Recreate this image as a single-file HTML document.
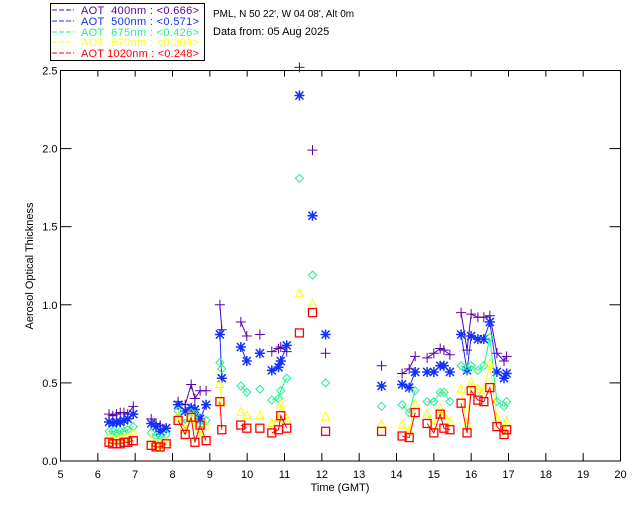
<!DOCTYPE html>
<html><head><meta charset="utf-8"><style>
body{margin:0;background:#fff;}
svg{display:block;font-family:"Liberation Sans",sans-serif;}
text{white-space:pre;}
</style></head><body>
<svg id="chart" width="640" height="512">
<rect x="50.5" y="3.5" width="154" height="57" fill="#fff" stroke="#000"/>
<g font-size="11">
<g><line x1="52" x2="74" y1="10" y2="10" stroke="#5a00a8" stroke-dasharray="5,2"/><text x="81" y="14" fill="#5a00a8" textLength="118" lengthAdjust="spacing">AOT  400nm : &lt;0.666&gt;</text></g>
<g><line x1="52" x2="74" y1="21" y2="21" stroke="#1030ff" stroke-dasharray="5,2"/><text x="81" y="25" fill="#1030ff" textLength="118" lengthAdjust="spacing">AOT  500nm : &lt;0.571&gt;</text></g>
<g><line x1="52" x2="74" y1="32" y2="32" stroke="#20f090" stroke-dasharray="5,2"/><text x="81" y="36" fill="#20f090" textLength="118" lengthAdjust="spacing">AOT  675nm : &lt;0.426&gt;</text></g>
<g><line x1="52" x2="74" y1="42" y2="42" stroke="#ffff00" stroke-dasharray="5,2"/><text x="81" y="46" fill="#ffff00" textLength="118" lengthAdjust="spacing">AOT  870nm : &lt;0.304&gt;</text></g>
<g><line x1="52" x2="74" y1="53" y2="53" stroke="#ff0000" stroke-dasharray="5,2"/><text x="81" y="57" fill="#ff0000" textLength="118" lengthAdjust="spacing">AOT 1020nm : &lt;0.248&gt;</text></g>
</g>
<text x="213" y="17" font-size="10">PML, N 50 22', W 04 08', Alt 0m</text>
<text x="213" y="35" font-size="11">Data from: 05 Aug 2025</text>
<rect x="60.5" y="70.5" width="560" height="390.5" fill="none" stroke="#000"/>
<g id="axes"></g>
<g id="marks"></g>
<text x="340" y="491" font-size="11" text-anchor="middle">Time (GMT)</text>
<text transform="translate(33,266) rotate(-90)" font-size="11" text-anchor="middle">Aerosol Optical Thickness</text>
</svg>
<script>
const times=[6.3,6.4,6.5,6.6,6.7,6.8,6.95, 7.43,7.56,7.67,7.83, 8.15,8.34,8.5,8.6,8.74,8.9, 9.27,9.32, 9.83,9.99, 10.34, 10.66,10.84,10.9,11.06, 11.4, 11.75, 12.1, 13.6, 14.15,14.34,14.5, 14.82,15.0,15.17,15.27,15.43, 15.73,15.89,16.0,16.18,16.34,16.5,16.69,16.88,16.95];
const aot400=[.30,.29,.30,.31,.31,.30,.35, .27,.24,.23,.21, .38,.36,.49,.40,.45,.45, 1.0,.84, .89,.80, .81, .70,.72,.73,.70, 2.52, 1.99, .69, .61, .56,.59,.67, .66,.69,.72,.71,.68, .95,.71,.94,.92,.92,.93,.69,.64,.67];
const aot500=[.25,.24,.25,.25,.26,.27,.30, .24,.22,.19,.21, .36,.32,.34,.33,.27,.36, .81,.53, .73,.64, .69, .58,.60,.64,.74, 2.34, 1.57, .81, .48, .49,.47,.57, .57,.57,.61,.61,.57, .81,.58,.80,.78,.78,.89,.57,.53,.56];
const aot675=[.19,.19,.18,.19,.19,.20,.22, .18,.16,.14,.17, .32,.24,.31,.30,.23,.26, .63,.59, .48,.44, .46, .39,.40,.45,.53, 1.81, 1.19, .50, .35, .36,.31,.45, .38,.38,.44,.44,.38, .61,.58,.61,.58,.61,.79,.38,.35,.38];
const aot870=[.14,.13,.14,.14,.14,.15,.17, .13,.11,.10,.12, .28,.20,.28,.22,.16,.22, .49,.38, .31,.29, .29, .24,.27,.36,.27, 1.07, 1.0, .28, .23, .23,.19,.36, .30,.23,.33,.29,.25, .46,.23,.50,.46,.45,.62,.27,.20,.25];
const aot1020=[.12,.11,.11,.11,.12,.12,.13, .10,.09,.09,.11, .26,.17,.28,.12,.23,.13, .38,.20, .23,.21, .21, .18,.20,.29,.21, .82, .95, .19, .19, .16,.15,.31, .24,.18,.30,.21,.20, .37,.18,.45,.39,.38,.47,.22,.17,.20];
const xTicks=[5,6,7,8,9,10,11,12,13,14,15,16,17,18,19,20];
const yTicks=[0,0.5,1.0,1.5,2.0,2.5];
const NS='http://www.w3.org/2000/svg';
const X0=60.5,X1=620.5,Y0=461,Y1=70.5;
function xs(t){return X0+(t-5)/15*(X1-X0);}
function ys(v){return Y0-v/2.5*(Y0-Y1);}
function mk(tag,attrs,parent){const e=document.createElementNS(NS,tag);for(const k in attrs)e.setAttribute(k,attrs[k]);parent.appendChild(e);return e;}
const axes=document.getElementById('axes'),marks=document.getElementById('marks');
xTicks.forEach(t=>{
  const x=xs(t);
  if(t>5&&t<20){mk('line',{x1:x,x2:x,y1:Y0,y2:Y0-8,stroke:'#000'},axes);mk('line',{x1:x,x2:x,y1:Y1,y2:Y1+6,stroke:'#000'},axes);}
  const tx=mk('text',{x:x,y:Y0+17,'font-size':11,'text-anchor':'middle'},axes);
  
  
  tx.textContent=t;
});
yTicks.forEach(v=>{
  const y=ys(v);
  mk('line',{x1:X0,x2:X0+11,y1:y,y2:y,stroke:'#000'},axes);
  mk('line',{x1:X1,x2:X1-11,y1:y,y2:y,stroke:'#000'},axes);
  const tx=mk('text',{x:X0-3,y:y+4,'font-size':11,'text-anchor':'end'},axes);
  
  
  tx.textContent=v.toFixed(1);
});
const series=[['400',aot400,'#5a00a8','plus'],['500',aot500,'#1030ff','star'],['675',aot675,'#20f090','diamond'],['870',aot870,'#ffff00','tri'],['1020',aot1020,'#ff0000','square']];
series.forEach(([nm,vals,col,shape])=>{
  const g=mk('g',{},marks);
  
  
  let d='';
  for(let i=0;i<times.length;i++){
    const x=xs(times[i]),y=ys(vals[i]);
    if(i>0&&times[i]-times[i-1]<0.3)d+='L'+x+' '+y;else d+='M'+x+' '+y;
  }
  const p=mk('path',{d:d,fill:'none',stroke:col,'stroke-width':1},g);
  
  
  for(let i=0;i<times.length;i++){
    const x=xs(times[i]),y=ys(vals[i]);let m;
    if(shape==='plus')m=mk('path',{d:`M${x-5} ${y}h10M${x} ${y-5}v10`,stroke:col,fill:'none'},g);
    else if(shape==='star')m=mk('path',{d:`M${x-5} ${y}h10M${x} ${y-5}v10M${x-4} ${y-4}l8 8M${x-4} ${y+4}l8 -8`,stroke:col,'stroke-width':1.5,fill:'none'},g);
    else if(shape==='diamond')m=mk('path',{d:`M${x} ${y-4}l4 4l-4 4l-4 -4z`,stroke:col,fill:'none'},g);
    else if(shape==='tri')m=mk('path',{d:`M${x} ${y-5}l4 8h-8z`,stroke:col,fill:'none'},g);
    else m=mk('rect',{x:x-4,y:y-4,width:8,height:8,stroke:col,'stroke-width':1.3,fill:'none'},g);
    
    
  }
});
</script>
</body></html>
